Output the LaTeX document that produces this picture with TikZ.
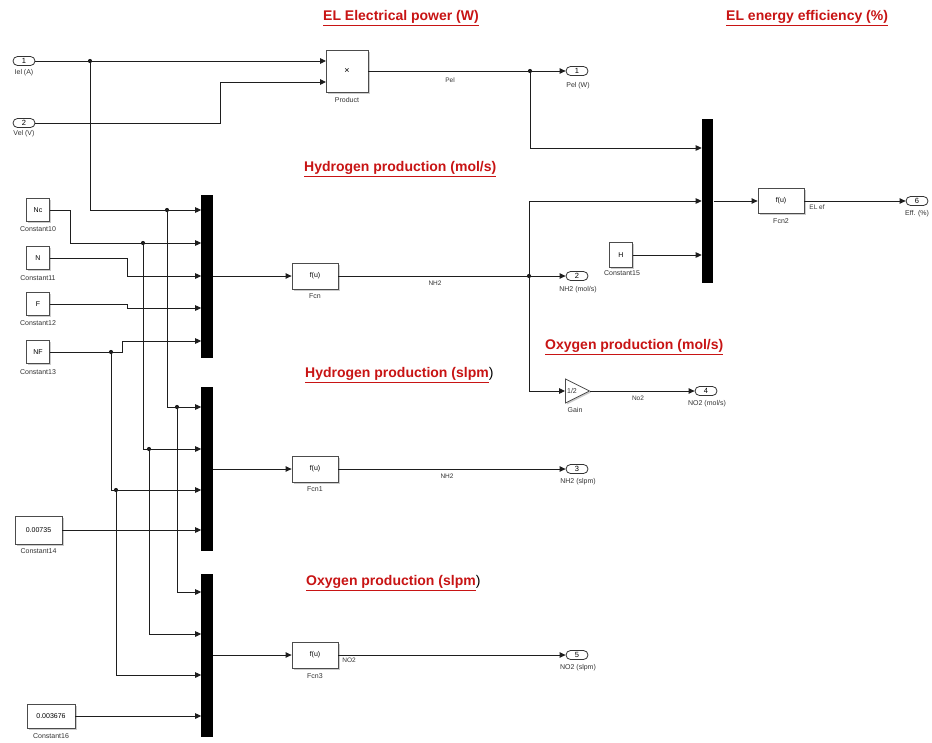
\documentclass[tikz,border=0pt]{standalone}
\usepackage{fontspec}
\setmainfont{Liberation Sans}
\usetikzlibrary{arrows.meta,shapes.geometric,shadows}
\definecolor{ttl}{RGB}{200,20,20}
\definecolor{ln}{RGB}{30,30,30}
\begin{document}
\begin{tikzpicture}[x=1pt,y=-1pt,
  wire/.style={draw=ln,line width=0.9pt},
  arr/.style={wire,-{Triangle[length=6pt,width=5.5pt]}},
  blk/.style={draw=black!70,fill=white,line width=0.8pt,inner sep=0pt,font=\fontsize{7}{8}\selectfont,drop shadow={shadow xshift=1.5pt,shadow yshift=-1.5pt,opacity=0.4,fill=black!50}},
  port/.style={draw=black!80,fill=white,rounded corners=4.5pt,minimum width=22pt,minimum height=9pt,inner sep=0pt,line width=0.8pt,font=\fontsize{7.5}{8}\selectfont},
  muxbar/.style={fill=black,draw=none,minimum width=11.6pt,inner sep=0pt},
  lbl/.style={font=\fontsize{7}{8}\selectfont,text=black!80,inner sep=0pt},
  sig/.style={font=\fontsize{6.5}{7}\selectfont,text=black!80,inner sep=0pt},
  ttlstyle/.style={font=\bfseries\fontsize{14}{16}\selectfont,text=ttl,anchor=west,inner sep=0pt},
  jdot/.style={fill=ln},
]
\useasboundingbox[fill=white] (0,0) rectangle (932,742);

% titles
\node[ttlstyle] (t1) at (323,18) {\underline{EL Electrical power (W)}};
\node[ttlstyle] (t2) at (726,18) {\underline{EL energy efficiency (\%)}};
\node[ttlstyle] (t3) at (304,169) {\underline{Hydrogen production (mol/s)}};
\node[ttlstyle] (t4) at (545,347) {\underline{Oxygen production (mol/s)}};
\node[ttlstyle] (t5) at (305,375) {\underline{Hydrogen production (slpm}\textcolor{black}{\mdseries)}};
\node[ttlstyle] (t6) at (306,583) {\underline{Oxygen production (slpm}\textcolor{black}{\mdseries)}};

% inports
\node[port] (in1) at (24,61) {1};
\node[lbl] (in1l) at (24,73) {Iel (A)};
\node[port] (in2) at (24,123) {2};
\node[lbl] (in2l) at (24,134) {Vel (V)};

% product
\node[blk,minimum width=42pt,minimum height=42pt,font=\fontsize{9}{9}\selectfont] (prod) at (347,71) {×};
\node[lbl] (prodl) at (347,100) {Product};
\coordinate (p1) at (326,61);
\coordinate (p2) at (326,82);

% constants
\node[blk,minimum width=23pt,minimum height=23pt] (c10) at (38,210) {Nc};
\node[lbl] (c10l) at (38,229) {Constant10};
\node[blk,minimum width=23pt,minimum height=23pt] (c11) at (38,258) {N};
\node[lbl] (c11l) at (38,278) {Constant11};
\node[blk,minimum width=23pt,minimum height=23pt] (c12) at (38,304) {F};
\node[lbl] (c12l) at (38,323) {Constant12};
\node[blk,minimum width=23pt,minimum height=23pt] (c13) at (38,352) {NF};
\node[lbl] (c13l) at (38,372) {Constant13};
\node[blk,minimum width=47pt,minimum height=28pt] (c14) at (38.5,530) {0.00735};
\node[lbl] (c14l) at (38.5,551) {Constant14};
\node[blk,minimum width=48pt,minimum height=24pt] (c16) at (51,716) {0.003676};
\node[lbl] (c16l) at (51,736) {Constant16};
\node[blk,minimum width=23pt,minimum height=25pt] (c15) at (621,255) {H};
\node[lbl] (c15l) at (622,273) {Constant15};

% muxes
\node[muxbar,minimum height=163pt] (mux1) at (207,276) {};
\node[muxbar,minimum height=164pt] (mux2) at (207,469) {};
\node[muxbar,minimum height=163pt] (mux3) at (207,655) {};
\node[muxbar,minimum height=164pt] (mux4) at (707.5,201) {};
\coordinate (m1a) at (201.2,210);
\coordinate (m1b) at (201.2,243);
\coordinate (m1c) at (201.2,276);
\coordinate (m1d) at (201.2,308);
\coordinate (m1e) at (201.2,341);
\coordinate (m2a) at (201.2,407);
\coordinate (m2b) at (201.2,449);
\coordinate (m2c) at (201.2,490);
\coordinate (m2d) at (201.2,530);
\coordinate (m3a) at (201.2,592);
\coordinate (m3b) at (201.2,634);
\coordinate (m3c) at (201.2,675);
\coordinate (m3d) at (201.2,716);
\coordinate (m4a) at (701.7,148);
\coordinate (m4b) at (701.7,201);
\coordinate (m4c) at (701.7,255);

% function blocks
\node[blk,minimum width=46pt,minimum height=26pt] (fcn) at (315,276) {f(u)};
\node[lbl] (fcnl) at (315,296) {Fcn};
\node[blk,minimum width=46pt,minimum height=26pt] (fcn1) at (315,469) {f(u)};
\node[lbl] (fcn1l) at (315,489) {Fcn1};
\node[blk,minimum width=46pt,minimum height=26pt] (fcn3) at (315,655) {f(u)};
\node[lbl] (fcn3l) at (315,676) {Fcn3};
\node[blk,minimum width=46pt,minimum height=25pt] (fcn2) at (781,201) {f(u)};
\node[lbl] (fcn2l) at (781,221) {Fcn2};

% gain
\node[draw=black!70,fill=white,line width=0.8pt,isosceles triangle,isosceles triangle stretches,minimum width=24pt,minimum height=24pt,inner sep=0pt,anchor=west,drop shadow={shadow xshift=1.5pt,shadow yshift=-1.5pt,opacity=0.4,fill=black!50}] (gain) at (565,391) {};
\node[lbl] (gaint) at (572,391) {1/2};
\node[lbl] (gainl) at (575,410) {Gain};

% outports
\node[port] (out1) at (577,71) {1};
\node[lbl] (out1l) at (578,86) {Pel (W)};
\node[port] (out2) at (577,276) {2};
\node[lbl] (out2l) at (578,290) {NH2 (mol/s)};
\node[port] (out3) at (577,469) {3};
\node[lbl] (out3l) at (578,482) {NH2 (slpm)};
\node[port] (out4) at (706,391) {4};
\node[lbl] (out4l) at (707,404) {NO2 (mol/s)};
\node[port] (out5) at (577,655) {5};
\node[lbl] (out5l) at (578,668) {NO2 (slpm)};
\node[port] (out6) at (917,201) {6};
\node[lbl] (out6l) at (917,214) {Eff. (\%)};

% junctions
\coordinate (j1) at (90,61);
\coordinate (j2) at (167,210);
\coordinate (j3) at (177,407);
\coordinate (j4) at (143,243);
\coordinate (j5) at (149,449);
\coordinate (j6) at (111,352);
\coordinate (j7) at (116,490);
\coordinate (j8) at (529,276);
\coordinate (j9) at (530,71);

% connectors
\draw[arr] (in1.east) -- (p1);
\draw[arr] (in2.east) -- (220,123) |- (p2);
\draw[arr] (j1) |- (m1a);
\draw[arr] (j2) |- (m2a);
\draw[arr] (j3) |- (m3a);
\draw[arr] (c10.east) -- (70,210) |- (m1b);
\draw[arr] (j4) |- (m2b);
\draw[arr] (j5) |- (m3b);
\draw[arr] (c11.east) -- (127,258) |- (m1c);
\draw[arr] (c12.east) -- (127,304) |- (m1d);
\draw[arr] (c13.east) -- (122,352) |- (m1e);
\draw[arr] (j6) |- (m2c);
\draw[arr] (j7) |- (m3c);
\draw[arr] (c14.east) -- (m2d);
\draw[arr] (c16.east) -- (m3d);
\draw[arr] (mux1.east) -- (fcn.west);
\draw[arr] (fcn.east) -- (out2.west);
\draw[arr] (j8) |- (m4b);
\draw[arr] (j8) |- (gain.west);
\draw[arr] (gain.east) -- (out4.west);
\draw[arr] (prod.east) -- (out1.west);
\draw[arr] (j9) |- (m4a);
\draw[arr] (c15.east) -- (m4c);
\draw[arr] (mux4.east) -- (fcn2.west);
\draw[arr] (fcn2.east) -- (out6.west);
\draw[arr] (mux2.east) -- (fcn1.west);
\draw[arr] (fcn1.east) -- (out3.west);
\draw[arr] (mux3.east) -- (fcn3.west);
\draw[arr] (fcn3.east) -- (out5.west);

% junction dots
\foreach \j in {j1,j2,j3,j4,j5,j6,j7,j8,j9} \fill[jdot] (\j) circle (2.1pt);

% signal labels
\node[sig] (s1) at (450,80) {Pel};
\node[sig] (s2) at (435,283) {NH2};
\node[sig] (s3) at (447,476) {NH2};
\node[sig] (s4) at (638,398) {No2};
\node[sig] (s5) at (349,660) {NO2};
\node[sig] (s6) at (817,207) {EL ef};
\end{tikzpicture}
\end{document}
